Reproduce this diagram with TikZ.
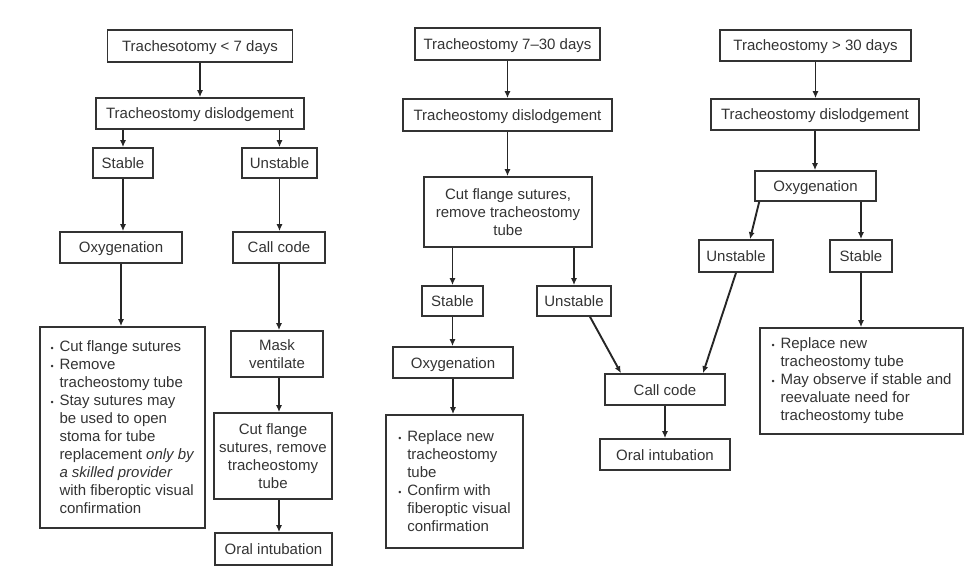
\documentclass[tikz,border=0pt]{standalone}
\usepackage{fontspec}
\setmainfont{Liberation Sans}
\usetikzlibrary{arrows.meta}

\newcommand{\bpt}{\makebox[9bp][l]{\raisebox{0.6pt}{\fontsize{9}{9}\selectfont\textbullet}}}
\newcommand{\bsk}{\hspace*{9bp}}

\tikzset{
  box/.style={draw=black!80, line width=1.6bp, text=black!80, inner sep=2bp,
    minimum height=31bp, align=center, font=\fontsize{15bp}{18bp}\selectfont,
    text height=12.5bp, text depth=1.5bp},
  tall/.style={box, text height=, text depth=},
  notes/.style={tall, align=left},
  arr/.style={draw=black!85, line width=1.9bp, -{Latex[length=7bp,width=6bp]}},
}

\begin{document}
\begin{tikzpicture}[x=1bp, y=-1bp]
\useasboundingbox (0,0) rectangle (965,572);

% ----------------------------------------------------------
% Tracheostomy < 7 days
% ----------------------------------------------------------
\node[box, minimum width=185bp, minimum height=32bp] (t7) at (200,46) {Trachesotomy < 7 days};
\node[box, minimum width=208bp] (d7) at (200,113.5) {Tracheostomy dislodgement};
\node[box, minimum width=60bp, minimum height=30bp] (s7) at (123,163) {Stable};
\node[box, minimum width=75bp, minimum height=30bp] (u7) at (279.5,163) {Unstable};
\node[box, minimum width=122bp] (o7) at (121,247.5) {Oxygenation};
\node[box, minimum width=92bp] (c7) at (279,247.5) {Call code};
\node[notes, minimum width=165bp, minimum height=201bp] (b7) at (122.5,427.5) {%
  \bpt Cut flange sutures\\
  \bpt Remove\\
  \bsk tracheostomy tube\\
  \bpt Stay sutures may\\
  \bsk be used to open\\
  \bsk stoma for tube\\
  \bsk replacement \textit{only by}\\
  \bsk \textit{a skilled provider}\\
  \bsk with fiberoptic visual\\
  \bsk confirmation};
\node[tall, minimum width=92bp, minimum height=46bp] (m7) at (277,354) {Mask\\ ventilate};
\node[tall, minimum width=118bp, minimum height=86bp] (f7) at (273,456) {Cut flange\\ sutures, remove\\ tracheostomy\\ tube};
\node[box, minimum width=117bp, minimum height=32bp] (i7) at (273.5,549) {Oral intubation};

% ----------------------------------------------------------
% Tracheostomy 7-30 days
% ----------------------------------------------------------
\node[box, minimum width=185bp, minimum height=32bp] (t30) at (507.5,44) {Tracheostomy 7\textendash30 days};
\node[box, minimum width=209bp, minimum height=32bp] (d30) at (507.5,115) {Tracheostomy dislodgement};
\node[tall, minimum width=168bp, minimum height=70bp] (f30) at (508,212) {Cut flange sutures,\\ remove tracheostomy\\ tube};
\node[box, minimum width=61bp, minimum height=30bp] (s30) at (452.5,301) {Stable};
\node[box, minimum width=74bp, minimum height=30bp] (u30) at (574,301) {Unstable};
\node[box, minimum width=120bp] (o30) at (453,362.5) {Oxygenation};
\node[notes, minimum width=137bp, minimum height=133bp] (b30) at (454.5,481.5) {%
  \bpt Replace new\\
  \bsk tracheostomy\\
  \bsk tube\\
  \bpt Confirm with\\
  \bsk fiberoptic visual\\
  \bsk confirmation};
\node[box, minimum width=120bp] (cc) at (665,389.5) {Call code};
\node[box, minimum width=130bp] (oi) at (665,454.5) {Oral intubation};

% ----------------------------------------------------------
% Tracheostomy > 30 days
% ----------------------------------------------------------
\node[box, minimum width=191bp] (t30p) at (815.5,45.5) {Tracheostomy > 30 days};
\node[box, minimum width=208bp] (d30p) at (815,114.5) {Tracheostomy dislodgement};
\node[box, minimum width=121bp, minimum height=30bp] (o30p) at (815.5,186) {Oxygenation};
\node[box, minimum width=74bp, minimum height=32bp] (u30p) at (736,256) {Unstable};
\node[box, minimum width=62bp, minimum height=32bp] (s30p) at (861,256) {Stable};
\node[notes, minimum width=203bp, minimum height=106bp] (b30p) at (861.5,381) {%
  \bpt Replace new\\
  \bsk tracheostomy tube\\
  \bpt May observe if stable and\\
  \bsk reevaluate need for\\
  \bsk tracheostomy tube};

% ----------------------------------------------------------
% Arrows
% ----------------------------------------------------------
\foreach \a/\b in {t7/d7, s7/o7, u7/c7, o7/b7, t30/d30, d30/f30, s30/o30, o30/b30,
                   cc/oi, t30p/d30p, d30p/o30p, s30p/b30p} {
    \draw[arr] (\a) -- (\a |- \b.north);
}
\foreach \a/\b in {d7/s7, d7/u7, f30/s30, f30/u30, o30p/s30p} {
    \draw[arr] (\a.south -| \b) -- (\b);
}
\draw[arr] (c7) -- (c7 |- m7.north);
\draw[arr] (c7 |- m7.south) -- (c7 |- f7.north);
\draw[arr] (c7 |- f7.south) -- (c7 |- i7.north);

\draw[arr] ([xshift=5bp]o30p.south west) -- ([xshift=14bp]u30p.north);
\draw[arr] ([xshift=16bp]u30.south) -- ([xshift=-44bp]cc.north);
\draw[arr] (u30p.south) -- ([xshift=38bp]cc.north);

\end{tikzpicture}
\end{document}
